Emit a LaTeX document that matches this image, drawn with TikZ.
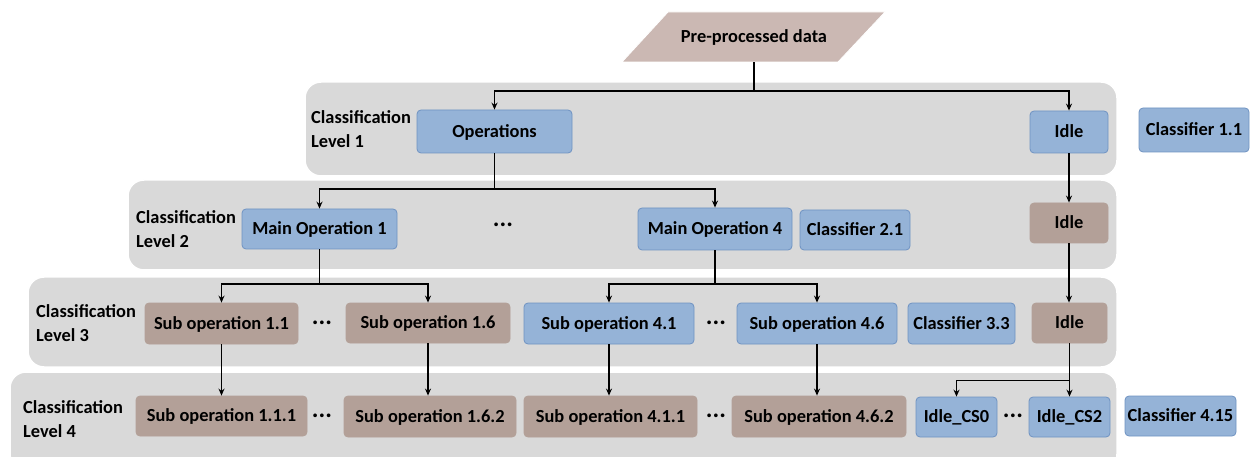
\documentclass[tikz,border=0pt]{standalone}
\usepackage{fontspec}
\setmainfont{Carlito}
\usetikzlibrary{arrows.meta,calc}
\definecolor{bandgray}{HTML}{D9D9D9}
\definecolor{boxblue}{HTML}{95B3D7}
\definecolor{boxblueedge}{HTML}{6F93C2}
\definecolor{boxbrown}{HTML}{B3A098}
\definecolor{parafill}{HTML}{CBB8B3}
\begin{document}
\begin{tikzpicture}[x=1pt,y=-1pt,
  every node/.style={font=\fontsize{18.4}{24}\selectfont\bfseries},
  ctext/.style={text height=15.6pt,text depth=4pt},
  bluebox/.style={ctext,draw=boxblueedge,fill=boxblue,rounded corners=4pt,line width=0.8pt,inner sep=0pt},
  brownbox/.style={ctext,draw=boxbrown,fill=boxbrown,rounded corners=4pt,line width=0.8pt,inner sep=0pt},
  band/.style={fill=bandgray,draw=white,line width=1.5pt,rounded corners=16pt},
  lvl/.style={anchor=north west,align=left,inner sep=0pt},
  conn/.style={line width=1.8pt,-{Stealth[length=7pt,width=6pt]}},
  plain/.style={line width=1.8pt},
  dots/.style={inner sep=0pt,font=\fontsize{25}{24}\selectfont\bfseries}]
\useasboundingbox (0,0) rectangle (1259,457);
% bands
\path[band] (305,82) rectangle (1117,176);
\path[band] (128,180) rectangle (1117,270);
\path[band] (28,277) rectangle (1117,367);
\path[band] (10,372) rectangle (1117,470);
% parallelogram
\path[fill=parafill,draw=white,line width=0.8pt] (668,12) -- (885,12) -- (838,62) -- (622,62) -- cycle;
\node[ctext,minimum height=50pt,inner sep=0pt] (pre) at (754,37) {Pre-processed data};
% level labels
\node[lvl] (l1) at (311,110) {Classification\\Level 1};
\node[lvl] (l2) at (136,210) {Classification\\Level 2};
\node[lvl] (l3) at (36,304) {Classification\\Level 3};
\node[lvl] (l4) at (23,400) {Classification\\Level 4};
% level 1
\node[bluebox,minimum width=155pt,minimum height=43pt] (ops) at (494.5,131.5) {Operations};
\node[bluebox,minimum width=78pt,minimum height=42pt] (idle1) at (1069,132) {Idle};
\node[bluebox,minimum width=110pt,minimum height=44pt] (c11) at (1194,130) {Classifier 1.1};
% level 2
\node[bluebox,minimum width=155pt,minimum height=40pt] (mo1) at (319.5,229) {Main Operation 1};
\node[dots] (d2) at (503,225) {...};
\node[bluebox,minimum width=154pt,minimum height=42pt] (mo4) at (715,229) {Main Operation 4};
\node[bluebox,minimum width=110pt,minimum height=40pt] (c21) at (855,230) {Classifier 2.1};
\node[brownbox,minimum width=78pt,minimum height=40pt] (idle2) at (1069,223) {Idle};
% level 3
\node[brownbox,minimum width=153pt,minimum height=41pt] (s11) at (221.5,323.5) {Sub operation 1.1};
\node[dots] (d31) at (322,323) {...};
\node[brownbox,minimum width=164pt,minimum height=40pt] (s16) at (428,323) {Sub operation 1.6};
\node[bluebox,minimum width=170pt,minimum height=41pt] (s41) at (609,323.5) {Sub operation 4.1};
\node[dots] (d32) at (716,323) {...};
\node[bluebox,minimum width=160pt,minimum height=41pt] (s46) at (817,323.5) {Sub operation 4.6};
\node[bluebox,minimum width=107pt,minimum height=41pt] (c33) at (961.5,323.5) {Classifier 3.3};
\node[brownbox,minimum width=75pt,minimum height=40pt] (idle3) at (1069.5,323) {Idle};
% level 4
\node[brownbox,minimum width=171pt,minimum height=40pt] (s111) at (221.5,416) {Sub operation 1.1.1};
\node[dots] (d41) at (322,416) {...};
\node[brownbox,minimum width=172pt,minimum height=41pt] (s162) at (430,416.5) {Sub operation 1.6.2};
\node[brownbox,minimum width=173pt,minimum height=41pt] (s411) at (610.5,416.5) {Sub operation 4.1.1};
\node[dots] (d42) at (716,416) {...};
\node[brownbox,minimum width=174pt,minimum height=41pt] (s462) at (819,416.5) {Sub operation 4.6.2};
\node[bluebox,minimum width=81pt,minimum height=40pt] (cs0) at (956.5,417) {Idle\_CS0};
\node[dots] (d43) at (1013,416) {...};
\node[bluebox,minimum width=81pt,minimum height=40pt] (cs2) at (1069.5,417) {Idle\_CS2};
\node[bluebox,minimum width=111pt,minimum height=40pt] (c415) at (1180.5,416) {Classifier 4.15};
% connectors
\coordinate (j1) at ($(pre.south)+(0,29)$);
\draw[plain] (pre.south) -- (j1);
\draw[conn] (j1) -| (ops.north);
\draw[conn] (j1) -| (idle1.north);
\coordinate (j2) at ($(ops.south)+(0,36)$);
\draw[plain] (ops.south) -- (j2);
\draw[conn] (j2) -| (mo1.north);
\draw[conn] (j2) -| (mo4.north);
\draw[conn] (idle1.south) -- (idle1.south |- idle2.north);
\coordinate (j3) at ($(mo1.south)+(0,35)$);
\draw[plain] (mo1.south) -- (j3);
\draw[conn] (j3) -| (s11.north);
\draw[conn] (j3) -| (s16.north);
\coordinate (j4) at ($(mo4.south)+(0,34)$);
\draw[plain] (mo4.south) -- (j4);
\draw[conn] (j4) -| (s41.north);
\draw[conn] (j4) -| (s46.north);
\draw[conn] (idle2.south) -- (idle2.south |- idle3.north);
\draw[conn] (s11.south) -- (s11.south |- s111.north);
\draw[conn] (s16.south) -- (s16.south |- s162.north);
\draw[conn] (s41.south) -- (s41.south |- s411.north);
\draw[conn] (s46.south) -- (s46.south |- s462.north);
\coordinate (j5) at ($(idle3.south)+(0,37)$);
\draw[plain] (idle3.south) -- (j5);
\draw[conn] (j5) -| (cs0.north);
\draw[conn] (j5) -| (cs2.north);
\end{tikzpicture}
\end{document}
